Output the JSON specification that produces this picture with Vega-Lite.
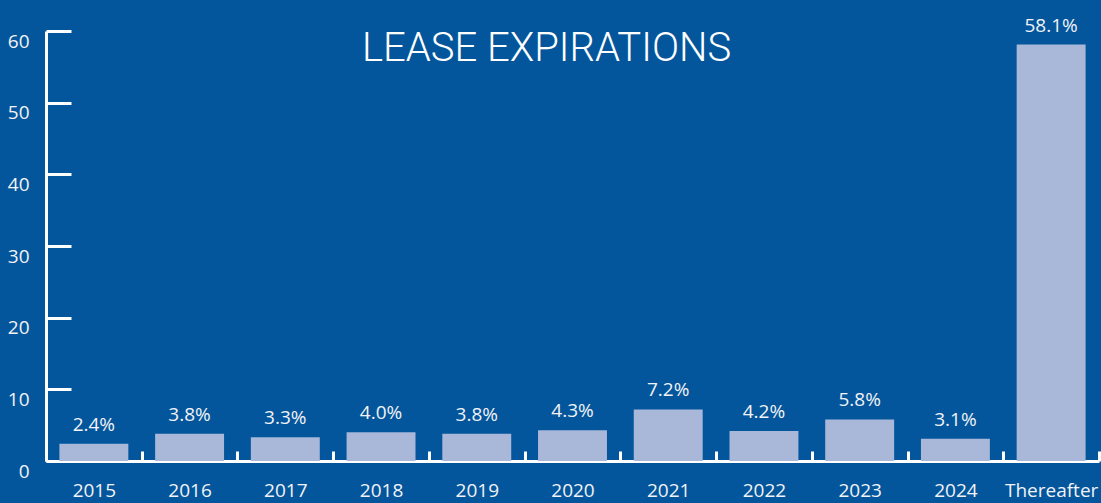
{
  "$schema": "https://vega.github.io/schema/vega-lite/v6.json",
  "width": 1053,
  "height": 430,
  "autosize": {"type": "none"},
  "padding": {"left": 46, "top": 31, "right": 2, "bottom": 42},
  "background": "#03569b",
  "title": {
    "text": "LEASE EXPIRATIONS",
    "anchor": "middle",
    "frame": "group",
    "offset": -52,
    "dx": -26,
    "fontSize": 40,
    "font": "Roboto",
    "fontWeight": 300,
    "color": "#ffffff"
  },
  "data": {
    "values": [
      {"period": "2015", "pct": 2.4, "label": "2.4%"},
      {"period": "2016", "pct": 3.8, "label": "3.8%"},
      {"period": "2017", "pct": 3.3, "label": "3.3%"},
      {"period": "2018", "pct": 4.0, "label": "4.0%"},
      {"period": "2019", "pct": 3.8, "label": "3.8%"},
      {"period": "2020", "pct": 4.3, "label": "4.3%"},
      {"period": "2021", "pct": 7.2, "label": "7.2%"},
      {"period": "2022", "pct": 4.2, "label": "4.2%"},
      {"period": "2023", "pct": 5.8, "label": "5.8%"},
      {"period": "2024", "pct": 3.1, "label": "3.1%"},
      {"period": "Thereafter", "pct": 58.1, "label": "58.1%"}
    ]
  },
  "encoding": {
    "x": {
      "field": "period",
      "type": "nominal",
      "sort": null,
      "scale": {"paddingInner": 0, "paddingOuter": 0},
      "axis": {
        "title": null,
        "labelAngle": 0,
        "labelFont": "Open Sans",
        "labelFontSize": 19,
        "labelColor": "#f2f2f7",
        "labelPadding": 30,
        "domainColor": "#ffffff",
        "domainWidth": 3,
        "tickColor": "#ffffff",
        "tickWidth": 3,
        "tickSize": -10,
        "tickBand": "extent"
      }
    },
    "y": {
      "field": "pct",
      "type": "quantitative",
      "scale": {"domain": [0, 60], "nice": false},
      "axis": {
        "title": null,
        "values": [0, 10, 20, 30, 40, 50, 60],
        "grid": false,
        "labelFont": "Open Sans",
        "labelFontSize": 19,
        "labelColor": "#f2f2f7",
        "labelBaseline": "middle",
        "labelOffset": 10,
        "labelPadding": 42,
        "domainColor": "#ffffff",
        "domainWidth": 3,
        "tickColor": "#ffffff",
        "tickWidth": 3,
        "tickSize": -25
      }
    }
  },
  "layer": [
    {"mark": {"type": "bar", "color": "#a9b8d9", "width": {"band": 0.72}}},
    {
      "mark": {"type": "text", "dy": -13, "baseline": "alphabetic", "font": "Open Sans", "fontSize": 19, "color": "#f2f2f7"},
      "encoding": {"text": {"field": "label", "type": "nominal"}}
    }
  ],
  "config": {"view": {"stroke": null}}
}
